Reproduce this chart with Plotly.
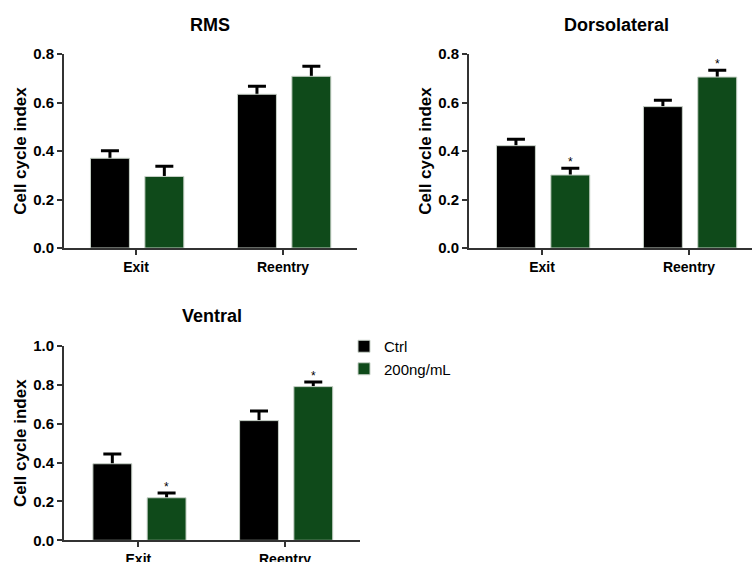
import plotly.graph_objects as go

categories = ["Exit", "Reentry"]
series_names = ["Ctrl", "200ng/mL"]
panel_titles = ["RMS", "Dorsolateral", "Ventral"]

rms_ctrl = [0.370, 0.634]
rms_ctrl_err = [0.031, 0.033]
rms_treat = [0.295, 0.708]
rms_treat_err = [0.042, 0.041]

dorso_ctrl = [0.422, 0.583]
dorso_ctrl_err = [0.026, 0.026]
dorso_treat = [0.301, 0.705]
dorso_treat_err = [0.028, 0.028]

ventral_ctrl = [0.394, 0.616]
ventral_ctrl_err = [0.050, 0.049]
ventral_treat = [0.219, 0.791]
ventral_treat_err = [0.024, 0.024]

significant = [[False, False], [True, True], [True, True]]  # stars on treated bars
y_max = [0.8, 0.8, 1.0]
y_ticks = [[0, 0.2, 0.4, 0.6, 0.8], [0, 0.2, 0.4, 0.6, 0.8], [0, 0.2, 0.4, 0.6, 0.8, 1.0]]

colors = ["#000000", "#0f4a1a"]
FONT = "Liberation Sans, Arial, sans-serif"
W, H = 752, 562

BAR_W = 0.265
OFFSETS = [-0.31, 0.06]

panels = [
    (rms_ctrl, rms_ctrl_err, rms_treat, rms_treat_err),
    (dorso_ctrl, dorso_ctrl_err, dorso_treat, dorso_treat_err),
    (ventral_ctrl, ventral_ctrl_err, ventral_treat, ventral_treat_err),
]

# layout geometry (pixels): x-domain, x-range, y-domain
geom = [
    dict(xd=(64, 357), xr=(-0.49, 1.503), yd=(248, 54)),
    dict(xd=(469, 752), xr=(-0.497, 1.429), yd=(248, 54)),
    dict(xd=(64, 360), xr=(-0.507, 1.511), yd=(540.3, 346)),
]

fig = go.Figure()
xpos = list(range(len(categories)))

for p, (c, ce, t, te) in enumerate(panels):
    xa = "x" if p == 0 else f"x{p+1}"
    ya = "y" if p == 0 else f"y{p+1}"
    series = [(c, ce), (t, te)]
    # error-bar carriers drawn first (so the bars hide the lower whisker)
    for s, (vals, errs) in enumerate(series):
        fig.add_trace(go.Bar(
            x=xpos, y=vals, width=BAR_W, offset=OFFSETS[s],
            showlegend=False, hoverinfo="skip",
            marker=dict(color="rgba(0,0,0,0)", line=dict(width=0)),
            error_y=dict(type="data", array=errs, arrayminus=vals,
                         symmetric=False, color="#000000", thickness=3, width=9),
            xaxis=xa, yaxis=ya,
        ))
    for s, (vals, errs) in enumerate(series):
        fig.add_trace(go.Bar(
            x=xpos, y=vals, width=BAR_W, offset=OFFSETS[s],
            name=series_names[s], legendgroup=series_names[s],
            showlegend=(p == 2),
            marker=dict(color=colors[s], line=dict(color="#c8d2c8", width=1)),
            xaxis=xa, yaxis=ya,
        ))
    # significance stars
    for i in range(len(categories)):
        if significant[p][i]:
            fig.add_annotation(
                x=xpos[i] + OFFSETS[1] + BAR_W / 2, y=t[i] + te[i],
                xref=xa, yref=ya, text="*", showarrow=False,
                xanchor="center", yanchor="bottom", yshift=-3,
                font=dict(family=FONT, size=12, color="#000000"),
            )

axis_common = dict(showline=True, linecolor="#333333", linewidth=2,
                   ticks="outside", ticklen=5, tickwidth=2, tickcolor="#333333",
                   showgrid=False, zeroline=False, automargin=False,
                   tickfont=dict(family=FONT, size=15, color="#000000", weight="bold"))

for p, g in enumerate(geom):
    xk = "xaxis" if p == 0 else f"xaxis{p+1}"
    yk = "yaxis" if p == 0 else f"yaxis{p+1}"
    xa = "x" if p == 0 else f"x{p+1}"
    ya = "y" if p == 0 else f"y{p+1}"
    fig.update_layout({
        xk: dict(axis_common, domain=[g["xd"][0] / W, g["xd"][1] / W], range=list(g["xr"]),
                 tickvals=xpos, ticktext=categories, anchor=ya, ticklen=5,
                 tickfont=dict(family=FONT, size=14, color="#000000", weight="bold")),
        yk: dict(axis_common, domain=[1 - g["yd"][0] / H, 1 - g["yd"][1] / H],
                 range=[0, y_max[p]], tickvals=y_ticks[p], tickformat=".1f", anchor=xa,
                 title=dict(text="Cell cycle index", standoff=2,
                            font=dict(family=FONT, size=17, color="#000000", weight="bold"))),
    })

title_pos = [(210, 25), (616, 25), (212, 316)]
for p, (tx, ty) in enumerate(title_pos):
    fig.add_annotation(x=tx / W, y=1 - ty / H, xref="paper", yref="paper",
                       xanchor="center", yanchor="middle",
                       text=panel_titles[p], showarrow=False,
                       font=dict(family=FONT, size=18, color="#000000", weight="bold"))

fig.update_layout(
    width=W, height=H, margin=dict(l=0, r=0, t=0, b=0),
    paper_bgcolor="white", plot_bgcolor="white",
    barmode="overlay",
    legend=dict(x=344 / W, y=1 - 330 / H, xanchor="left", yanchor="top",
                font=dict(family=FONT, size=15, color="#000000"),
                itemwidth=30, tracegroupgap=0, bgcolor="rgba(0,0,0,0)"),
    showlegend=True,
)

fig.write_html("out.html", config={"displayModeBar": False},
               post_script="document.body.style.margin='0';document.body.style.overflow='hidden';")
